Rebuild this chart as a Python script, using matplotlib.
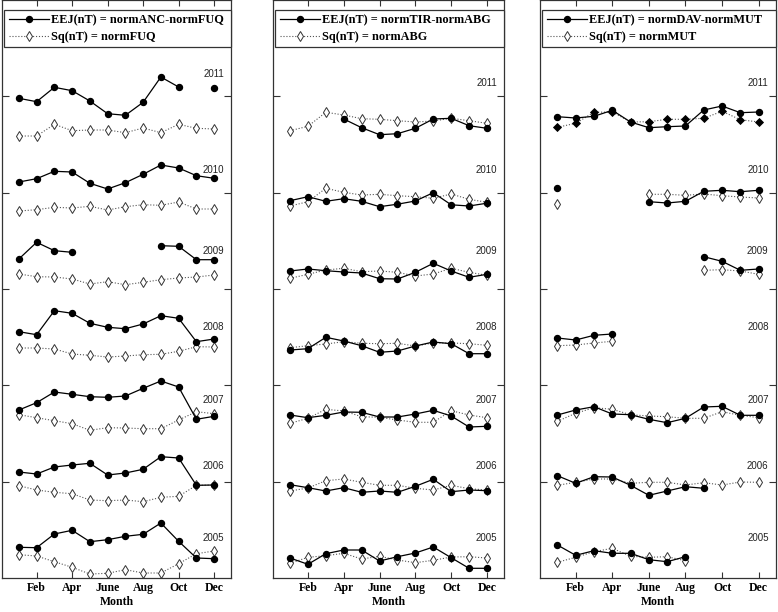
import numpy as np
import matplotlib
matplotlib.use("Agg")
import matplotlib.pyplot as plt

nan = np.nan
months = np.arange(1, 13)
tick_months = [2, 4, 6, 8, 10, 12]
tick_labels = ["Feb", "Apr", "June", "Aug", "Oct", "Dec"]
years = [2005, 2006, 2007, 2008, 2009, 2010, 2011]

eej_labels = ["EEJ(nT) = normANC-normFUQ", "EEJ(nT) = normTIR-normABG", "EEJ(nT) = normDAV-normMUT"]
sq_labels = ["Sq(nT) = normFUQ", "Sq(nT) = normABG", "Sq(nT) = normMUT"]

# ---- Panel 1: ANC - FUQ (values include the per-year vertical offset) ----
anc_eej = {
    2011: [479.7, 476.3, 490.7, 487.3, 477.0, 464.3, 462.7, 475.7, 501.0, 491.0, nan, 489.7],
    2010: [396.0, 399.3, 406.7, 406.0, 394.7, 389.0, 395.3, 403.7, 413.0, 410.0, 402.3, 399.7],
    2009: [319.0, 335.7, 327.3, 325.7, nan, nan, nan, nan, 332.3, 331.7, 318.3, 318.3],
    2008: [246.3, 243.3, 267.3, 264.7, 254.7, 250.7, 249.3, 254.0, 262.3, 259.7, 236.3, 239.0],
    2007: [168.0, 175.3, 186.0, 183.7, 181.3, 180.7, 182.0, 189.7, 197.0, 191.0, 158.7, 161.7],
    2006: [106.0, 104.0, 111.0, 113.0, 114.7, 103.0, 105.0, 108.7, 121.3, 120.0, 92.7, 93.0],
    2005: [30.7, 30.3, 44.0, 47.7, 36.3, 38.3, 41.7, 43.7, 55.0, 36.7, 20.0, 19.3],
}
fuq_sq = {
    2011: [442.0, 442.0, 453.7, 447.3, 448.0, 448.0, 445.3, 450.0, 445.3, 453.7, 449.7, 449.0],
    2010: [367.0, 368.3, 370.7, 370.0, 371.7, 368.0, 371.3, 373.3, 372.7, 376.0, 369.0, 369.0],
    2009: [304.0, 301.3, 301.0, 299.0, 294.0, 296.3, 293.3, 295.7, 298.3, 300.0, 301.0, 303.0],
    2008: [230.0, 230.0, 229.0, 224.0, 222.7, 221.0, 222.0, 223.3, 223.7, 226.7, 231.3, 231.0],
    2007: [163.3, 160.3, 157.3, 154.3, 147.7, 150.3, 150.0, 149.3, 149.3, 158.0, 166.3, 164.3],
    2006: [92.3, 88.0, 85.7, 84.3, 78.0, 77.3, 78.0, 76.3, 80.7, 81.7, 92.7, 93.0],
    2005: [23.3, 22.0, 16.3, 10.7, 4.0, 4.7, 8.3, 5.0, 5.0, 14.3, 24.3, 27.0],
}

# ---- Panel 2: TIR - ABG ----
tir_eej = {
    2011: [nan, nan, nan, 459.0, 450.3, 443.3, 444.3, 449.7, 459.0, 459.7, 452.3, 449.7],
    2010: [377.3, 381.3, 376.7, 379.3, 376.7, 371.3, 373.8, 377.0, 385.3, 373.2, 372.0, 374.8],
    2009: [307.0, 309.0, 307.3, 306.0, 305.0, 299.3, 299.0, 305.7, 314.7, 307.0, 300.7, 303.7],
    2008: [228.0, 229.3, 240.7, 237.0, 232.3, 225.7, 227.0, 232.0, 236.0, 234.3, 224.3, 224.3],
    2007: [163.0, 160.3, 162.7, 166.0, 165.7, 161.0, 161.0, 164.0, 167.7, 162.0, 151.0, 151.7],
    2006: [93.3, 90.3, 87.0, 90.3, 85.7, 87.0, 85.7, 91.7, 98.7, 86.3, 88.0, 87.3],
    2005: [20.0, 13.7, 24.3, 28.0, 28.0, 17.0, 21.3, 25.0, 31.0, 20.3, 9.7, 9.7],
}
abg_sq = {
    2011: [447.3, 451.7, 465.7, 463.0, 459.3, 458.7, 457.3, 456.0, 457.0, 459.7, 457.3, 454.7],
    2010: [372.0, 376.3, 389.7, 385.7, 383.0, 383.7, 382.3, 381.3, 379.7, 384.0, 378.7, 375.7],
    2009: [299.7, 303.7, 308.0, 309.7, 306.3, 307.0, 305.7, 302.0, 304.0, 309.7, 305.7, 302.7],
    2008: [230.3, 232.3, 234.0, 236.3, 234.7, 234.3, 234.7, 232.0, 235.0, 235.0, 234.3, 232.7],
    2007: [154.7, 159.7, 168.7, 167.0, 161.3, 160.7, 158.0, 155.7, 155.7, 167.3, 163.0, 160.3],
    2006: [87.0, 90.0, 97.3, 99.0, 95.7, 92.7, 92.7, 89.7, 88.0, 92.7, 89.3, 88.0],
    2005: [14.7, 20.7, 22.3, 24.7, 19.0, 21.7, 18.0, 15.3, 17.7, 21.0, 21.3, 20.0],
}

# ---- Panel 3: DAV - MUT ----
dav_eej = {
    2011: [461.3, 460.0, 461.7, 467.7, 456.0, 450.3, 451.3, 452.0, 468.0, 472.0, 465.3, 466.0],
    2010: [390.3, nan, nan, nan, nan, 376.3, 375.0, 376.7, 386.7, 387.7, 386.3, 387.7],
    2009: [nan, nan, nan, nan, nan, nan, nan, nan, 321.3, 316.7, 307.7, 309.0],
    2008: [240.0, 238.0, 242.7, 244.0, nan, nan, nan, nan, nan, nan, nan, nan],
    2007: [163.0, 168.0, 171.3, 164.0, 163.3, 158.7, 155.3, 159.7, 171.0, 171.7, 162.7, 162.7],
    2006: [102.3, 94.7, 101.3, 101.0, 92.7, 82.7, 87.0, 91.3, 89.7, nan, nan, nan],
    2005: [33.0, 22.7, 27.3, 24.7, 24.7, 18.3, 16.3, 21.3, nan, nan, nan, nan],
}
mut_sq = {
    2011: [450.7, 454.7, 465.7, 466.0, 456.0, 456.3, 458.7, 458.7, 459.7, 466.7, 458.3, 456.0],
    2010: [374.0, nan, nan, nan, nan, 383.7, 383.7, 382.7, 384.0, 382.3, 381.0, 380.0],
    2009: [nan, nan, nan, nan, nan, nan, nan, nan, 307.7, 308.3, 307.0, 303.7],
    2008: [232.3, 233.0, 235.0, 236.7, nan, nan, nan, nan, nan, nan, nan, nan],
    2007: [156.7, 164.7, 170.3, 168.7, 163.3, 162.0, 161.3, 159.7, 159.7, 166.3, 162.7, 160.3],
    2006: [92.7, 95.7, 99.0, 99.0, 94.7, 95.7, 95.7, 93.0, 95.3, 93.0, 96.0, 95.7],
    2005: [15.7, 20.7, 26.3, 29.7, 21.7, 20.7, 21.3, 17.3, nan, nan, nan, nan],
}

# year label heights per panel
year_label_y = [
    [40, 112, 178, 251, 327, 408, 504],
    [40, 112, 178, 251, 327, 408, 495],
    [40, 112, 178, 251, 327, 408, 495],
]
# years whose Sq markers are drawn filled (panel index, year)
filled_sq = {(2, 2011)}

panels = [(anc_eej, fuq_sq), (tir_eej, abg_sq), (dav_eej, mut_sq)]

fig = plt.figure(figsize=(7.78, 6.12), dpi=100)
W, H = 778.0, 612.0
axes_px = [(2, 231), (273, 504), (540, 776)]
bottom_px, top_px = 578, 0

serif = ["Liberation Serif", "DejaVu Serif"]
sans = ["Liberation Sans", "DejaVu Sans"]
spine_col = "#333333"
YMAX = 578.0

for i, ((eej, sq), (x0, x1)) in enumerate(zip(panels, axes_px)):
    ax = fig.add_axes([x0 / W, 1 - bottom_px / H, (x1 - x0) / W, (bottom_px - top_px) / H])
    for yr in years:
        if (i, yr) in filled_sq:
            ax.plot(months, sq[yr], linestyle=":", color="#555555", linewidth=0.8,
                    marker="D", markersize=3.6, markerfacecolor="black",
                    markeredgecolor="black", markeredgewidth=0.6, zorder=2)
        else:
            ax.plot(months, sq[yr], linestyle=":", color="#555555", linewidth=0.8,
                    marker="d", markersize=5.2, markerfacecolor="white",
                    markeredgecolor="#333333", markeredgewidth=0.7, zorder=2)
        ax.plot(months, eej[yr], linestyle="-", color="black", linewidth=0.9,
                marker="o", markersize=4.3, markerfacecolor="black",
                markeredgecolor="black", zorder=3)
    for yr, ly in zip(years, year_label_y[i]):
        ax.text(12.55, ly, str(yr), ha="right", va="center", fontsize=7,
                family=sans, color="#222222")
    ax.set_xlim(0.05, 12.95)
    ax.set_ylim(0, YMAX)
    ax.set_xticks(tick_months)
    ax.set_xticklabels(tick_labels, family=serif, fontsize=8.5, fontweight="bold")
    ax.set_yticks(np.arange(1, 6) * YMAX / 6)
    ax.tick_params(axis="x", direction="in", length=4, width=0.8, top=True,
                   bottom=True, labeltop=False, pad=3, colors=spine_col)
    ax.tick_params(axis="x", labelcolor="black")
    ax.tick_params(axis="y", direction="in", length=5, width=0.8, left=True,
                   right=True, labelleft=False, labelright=False, colors=spine_col)
    for s in ax.spines.values():
        s.set_color(spine_col)
        s.set_linewidth(0.9)
    ax.set_xlabel("Month", family=serif, fontsize=8.5, fontweight="bold", labelpad=1)

    h1, = ax.plot([], [], linestyle="-", color="black", linewidth=0.9, marker="o",
                  markersize=4.3, markerfacecolor="black", markeredgecolor="black")
    h2, = ax.plot([], [], linestyle=":", color="#555555", linewidth=0.8, marker="d",
                  markersize=5.2, markerfacecolor="white", markeredgecolor="#333333",
                  markeredgewidth=0.7)
    leg = ax.legend([h1, h2], [eej_labels[i], sq_labels[i]],
                    loc="upper left", bbox_to_anchor=(0.01, 0.983, 0.99, 0.0),
                    mode="expand", borderaxespad=0, fancybox=False,
                    edgecolor=spine_col, framealpha=1, handlelength=3.3,
                    handletextpad=0.2, labelspacing=0.4, borderpad=0.35,
                    prop={"family": serif, "size": 8.8, "weight": "bold"})
    leg.get_frame().set_linewidth(0.9)

fig.savefig("out.png", dpi=100)
